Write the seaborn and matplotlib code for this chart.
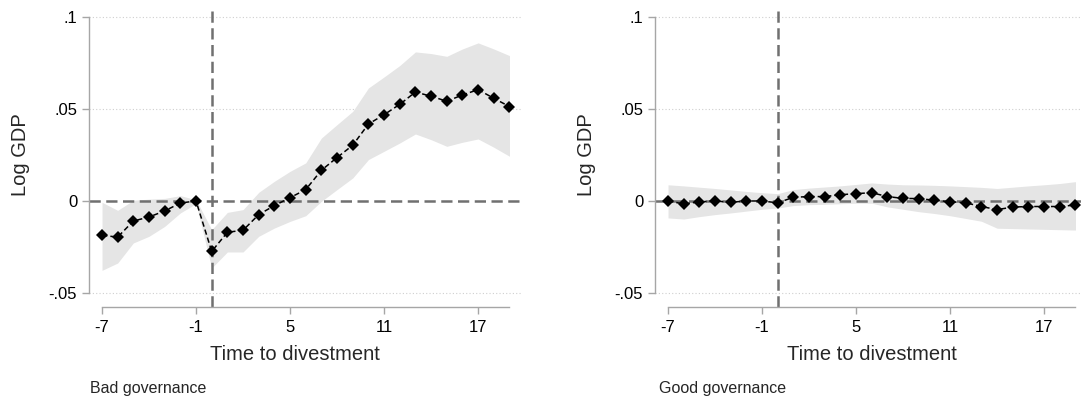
import numpy as np
import pandas as pd
import matplotlib
matplotlib.use("Agg")
import matplotlib.pyplot as plt
import seaborn as sns

# ---------------- data ----------------
time = list(range(-7, 20))

bad_coef = [-0.0187, -0.0196, -0.0109, -0.0087, -0.0054, -0.0011, 0.0000,
            -0.0274, -0.0170, -0.0159, -0.0074, -0.0025, 0.0018, 0.0062,
            0.0167, 0.0236, 0.0303, 0.0418, 0.0469, 0.0525, 0.0592,
            0.0569, 0.0542, 0.0576, 0.0605, 0.0558, 0.0513]
bad_hi = [-0.0007, -0.0051, 0.0004, 0.0010, 0.0014, 0.0029, 0.0007,
          -0.0156, -0.0062, -0.0047, 0.0047, 0.0107, 0.0161, 0.0207,
          0.0342, 0.0415, 0.0487, 0.0614, 0.0674, 0.0736, 0.0810,
          0.0801, 0.0786, 0.0826, 0.0859, 0.0826, 0.0790]
bad_lo = [-0.0377, -0.0337, -0.0228, -0.0192, -0.0138, -0.0065, -0.0014,
          -0.0364, -0.0277, -0.0277, -0.0192, -0.0147, -0.0111, -0.0080,
          -0.0002, 0.0062, 0.0125, 0.0225, 0.0270, 0.0315, 0.0364,
          0.0333, 0.0297, 0.0319, 0.0337, 0.0292, 0.0243]

good_coef = [0.0000, -0.0016, -0.0005, 0.0000, -0.0007, 0.0000, 0.0000,
             -0.0010, 0.0020, 0.0024, 0.0024, 0.0034, 0.0040, 0.0045,
             0.0024, 0.0014, 0.0013, 0.0004, -0.0004, -0.0010, -0.0030,
             -0.0047, -0.0033, -0.0030, -0.0030, -0.0030, -0.0022]
good_hi = [0.0088, 0.0082, 0.0075, 0.0068, 0.0060, 0.0052, 0.0045,
           0.0040, 0.0062, 0.0070, 0.0076, 0.0082, 0.0090, 0.0098,
           0.0092, 0.0088, 0.0087, 0.0085, 0.0082, 0.0078, 0.0074,
           0.0068, 0.0075, 0.0082, 0.0088, 0.0095, 0.0105]
good_lo = [-0.0092, -0.0098, -0.0085, -0.0074, -0.0065, -0.0055, -0.0045,
           -0.0038, -0.0025, -0.0020, -0.0018, -0.0015, -0.0012, -0.0012,
           -0.0032, -0.0045, -0.0058, -0.0068, -0.0080, -0.0095, -0.0110,
           -0.0148, -0.0150, -0.0152, -0.0154, -0.0156, -0.0158]

xticks = [-7, -1, 5, 11, 17]
yticks = [-0.05, 0, 0.05, 0.1]
ytick_labels = ["-.05", "0", ".05", ".1"]
panel_notes = ["Bad governance", "Good governance"]
x_label = "Time to divestment"
y_label = "Log GDP"

# ---------------- style ----------------
sns.set_style("white")
plt.rcParams["font.family"] = ["Liberation Sans", "DejaVu Sans"]

W, H = 1081, 401
fig = plt.figure(figsize=(W / 100, H / 100), dpi=100)

ax_w = 433 / W
ax_h = 300 / H
ax_b = 1 - 307 / H
axes = [fig.add_axes([89 / W, ax_b, ax_w, ax_h]),
        fig.add_axes([655 / W, ax_b, ax_w, ax_h])]

panels = [(bad_coef, bad_lo, bad_hi), (good_coef, good_lo, good_hi)]
spine_col = "#a6a6a6"
ref_col = "#707070"
label_x = [(295 - 89) / 433, 0.5]
note_x = [90, 659]

for i, (ax, (coef, lo, hi)) in enumerate(zip(axes, panels)):
    df = pd.DataFrame({"time": time, "coef": coef})
    ax.set_xlim(-7.83, 19.80)
    ax.set_ylim(-0.0576, 0.1054)

    # dotted grid lines
    for yv in [-0.05, 0.05, 0.1]:
        ax.axhline(yv, color="#cfcfcf", lw=0.8, ls=(0, (1, 2)), zorder=0)

    ax.fill_between(time, lo, hi, color="#e5e5e5", lw=0, zorder=1)
    ax.axhline(0, color=ref_col, lw=1.8, ls=(0, (4.5, 2.2)), zorder=2)
    ax.axvline(0, color=ref_col, lw=1.8, ls=(0, (4.5, 2.2)), zorder=2)

    sns.lineplot(data=df, x="time", y="coef", ax=ax, color="black",
                 linestyle=(0, (3.5, 2.0)), linewidth=1.1,
                 marker="D", markersize=6.4, markeredgewidth=0,
                 zorder=3, clip_on=False)

    for s in ["top", "right"]:
        ax.spines[s].set_visible(False)
    for s in ["left", "bottom"]:
        ax.spines[s].set_color(spine_col)
        ax.spines[s].set_linewidth(1.0)
    ax.spines["left"].set_bounds(-0.05, 0.1)
    ax.spines["bottom"].set_bounds(-7, 19)

    ax.set_xticks(xticks)
    ax.set_xticklabels([str(t) for t in xticks])
    ax.set_yticks(yticks)
    ax.set_yticklabels(ytick_labels)
    ax.tick_params(axis="both", which="major", direction="out", length=5,
                   width=1.0, color=spine_col, labelsize=12,
                   labelcolor="black", left=True, bottom=True)
    ax.tick_params(axis="x", pad=4.0)
    ax.tick_params(axis="y", pad=3.5)

    ax.set_xlabel(x_label, fontsize=14.5)
    ax.set_ylabel(y_label, fontsize=14.5)
    ax.xaxis.set_label_coords(label_x[i], -(355 - 307) / 300, transform=ax.transAxes)
    ax.yaxis.set_label_coords(-(89 - 21) / 433, 0.5 + (157 - 155) / 300)
    ax.xaxis.label.set_va("center")
    ax.yaxis.label.set_va("center")

    fig.text(note_x[i] / W, 1 - 389 / H, panel_notes[i], fontsize=11.5,
             ha="left", va="center")

fig.savefig("out.png", dpi=100)
